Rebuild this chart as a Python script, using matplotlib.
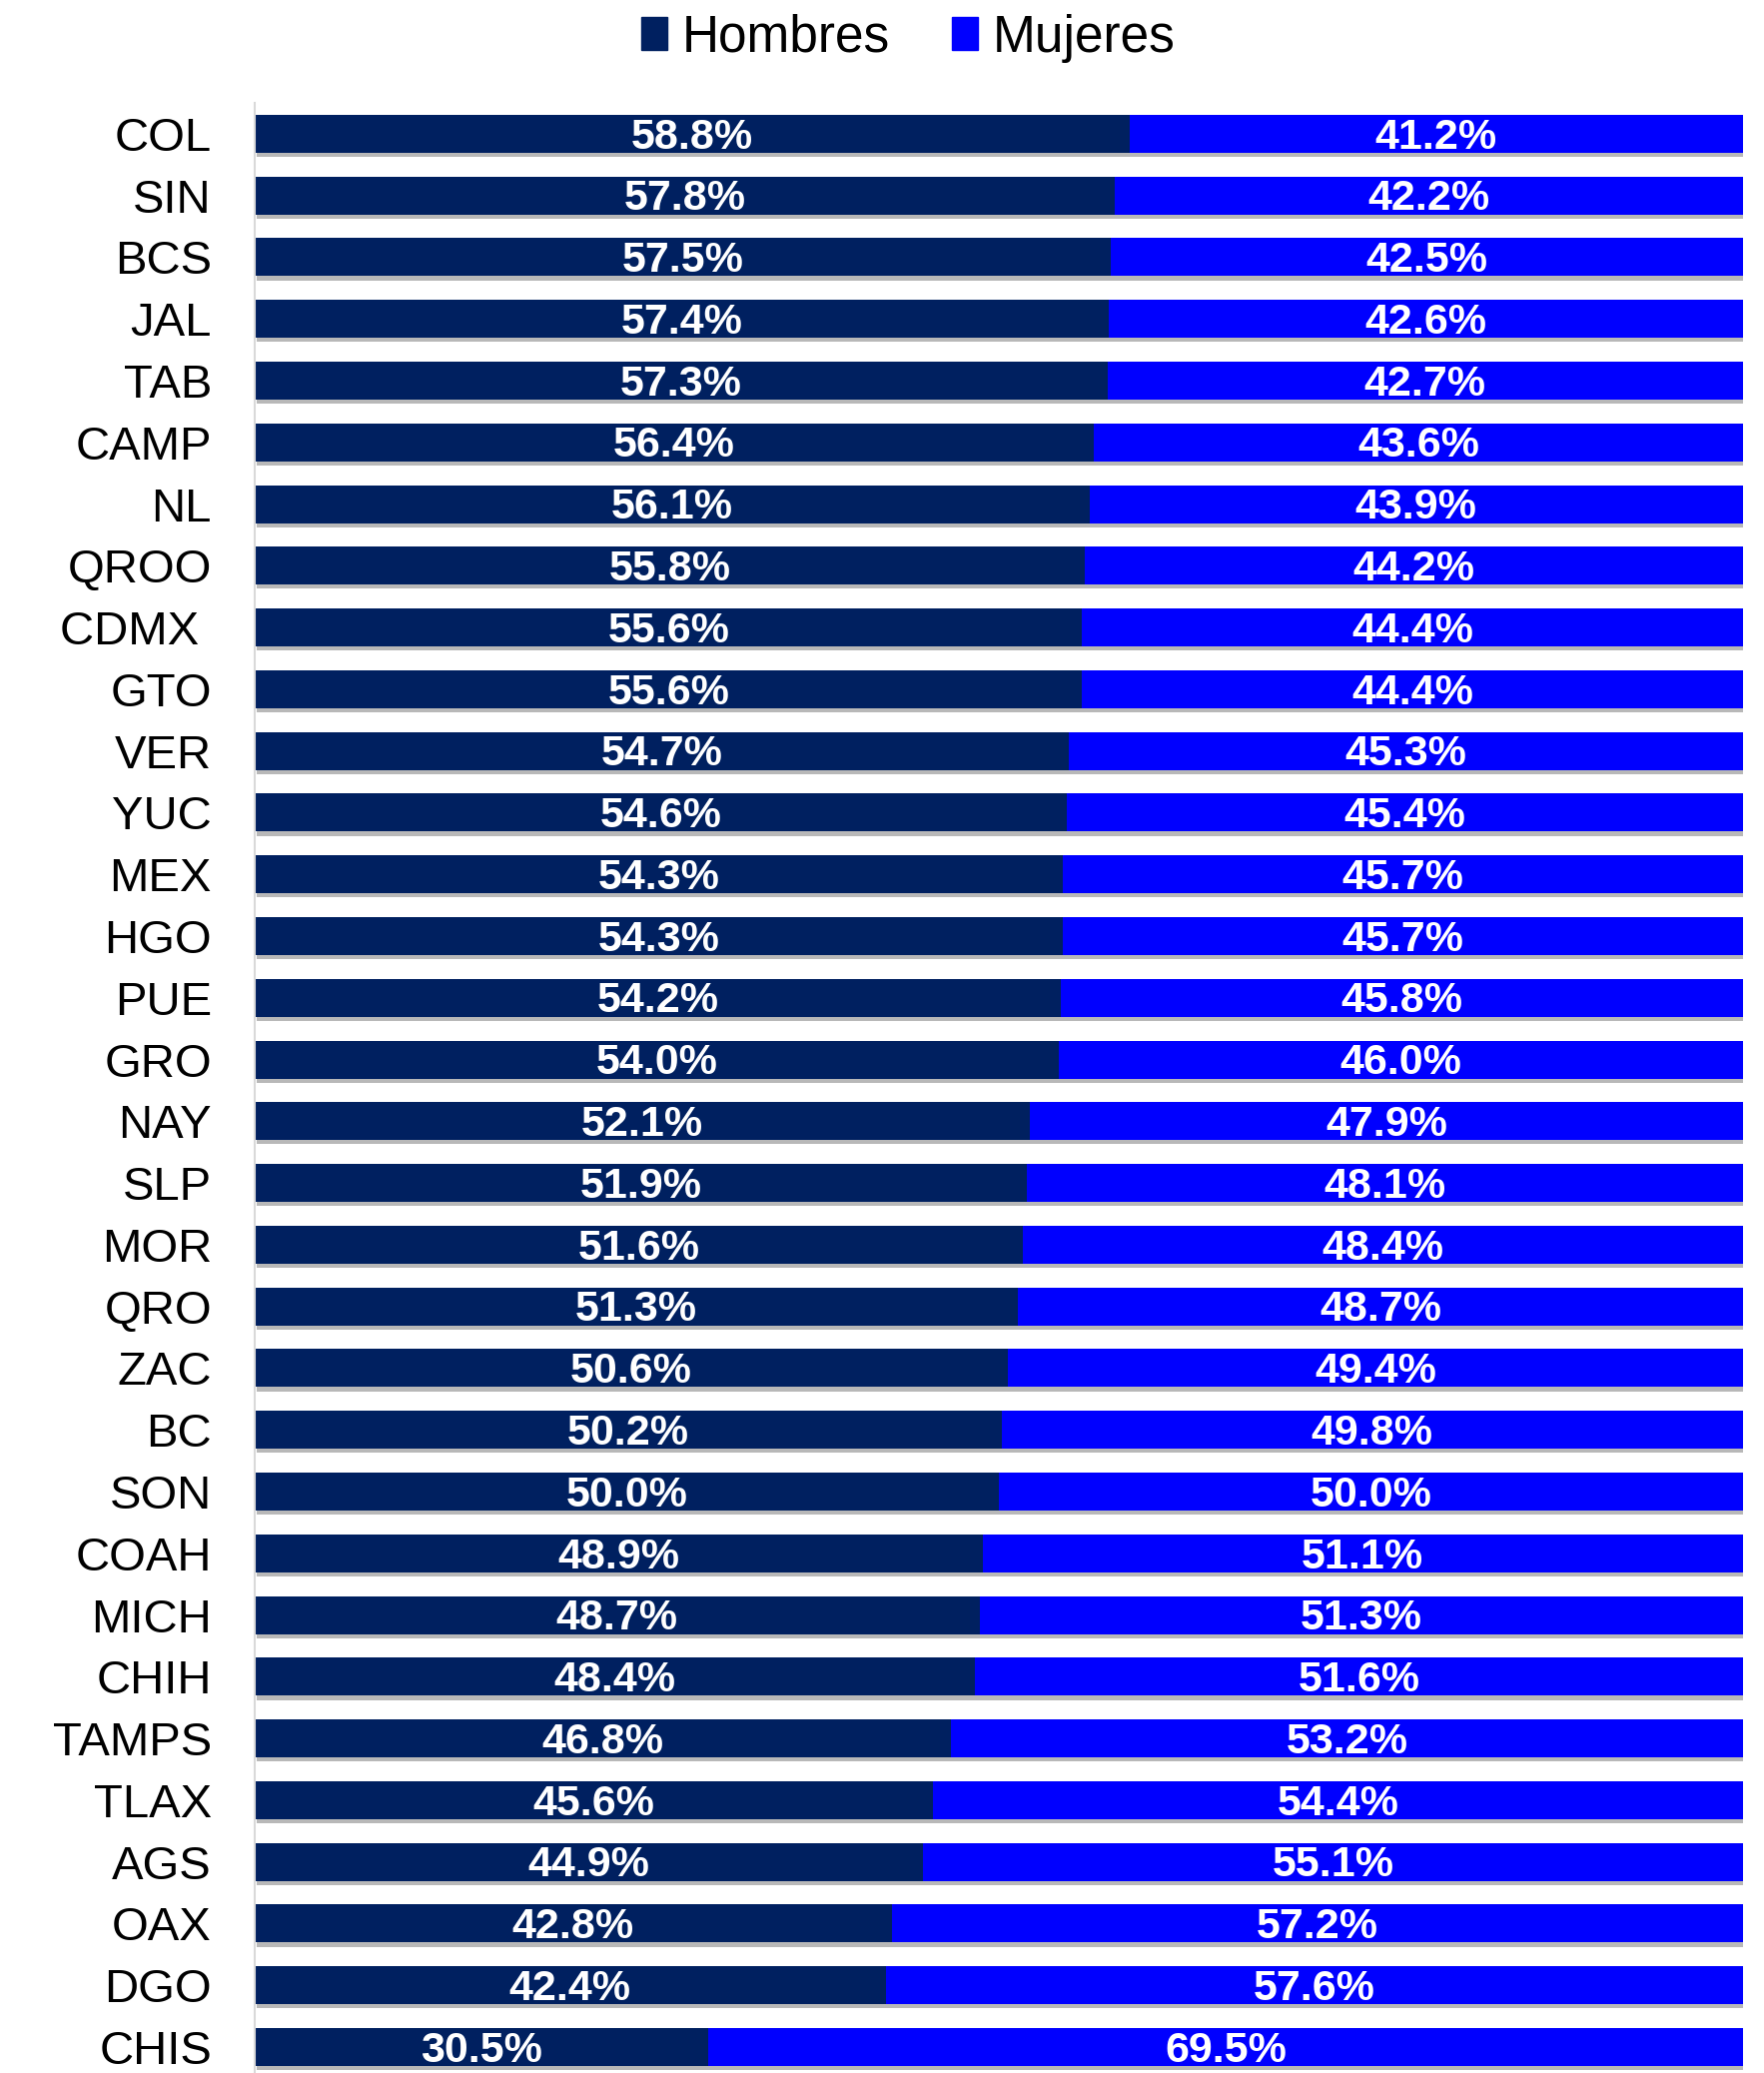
import matplotlib
matplotlib.use("Agg")
import matplotlib.pyplot as plt
import matplotlib.patheffects as pe
from matplotlib.patches import Patch
import numpy as np

plt.rcParams['font.family'] = ['Liberation Sans', 'DejaVu Sans']

estados = ['COL', 'SIN', 'BCS', 'JAL', 'TAB', 'CAMP', 'NL', 'QROO', 'CDMX ', 'GTO',
           'VER', 'YUC', 'MEX', 'HGO', 'PUE', 'GRO', 'NAY', 'SLP', 'MOR', 'QRO',
           'ZAC', 'BC', 'SON', 'COAH', 'MICH', 'CHIH', 'TAMPS', 'TLAX', 'AGS', 'OAX',
           'DGO', 'CHIS']
hombres = [58.8, 57.8, 57.5, 57.4, 57.3, 56.4, 56.1, 55.8, 55.6, 55.6,
           54.7, 54.6, 54.3, 54.3, 54.2, 54.0, 52.1, 51.9, 51.6, 51.3,
           50.6, 50.2, 50.0, 48.9, 48.7, 48.4, 46.8, 45.6, 44.9, 42.8,
           42.4, 30.5]
mujeres = [41.2, 42.2, 42.5, 42.6, 42.7, 43.6, 43.9, 44.2, 44.4, 44.4,
           45.3, 45.4, 45.7, 45.7, 45.8, 46.0, 47.9, 48.1, 48.4, 48.7,
           49.4, 49.8, 50.0, 51.1, 51.3, 51.6, 53.2, 54.4, 55.1, 57.2,
           57.6, 69.5]

c_hom = '#002060'
c_muj = '#0000FF'

fig = plt.figure(figsize=(17.66, 20.75), dpi=100)
ax = fig.add_axes([0.1444, 0.0, 0.988 - 0.1444, 0.9504])

y = np.arange(len(estados))
sombra = [pe.SimplePatchShadow(offset=(1.5, -3), shadow_rgbFace='#7f7f7f', alpha=0.55), pe.Normal()]

b1 = ax.barh(y, hombres, height=0.615, color=c_hom)
b2 = ax.barh(y, mujeres, left=hombres, height=0.615, color=c_muj)
for b in list(b1) + list(b2):
    b.set_path_effects(sombra)

# etiquetas dentro de cada segmento
for i in range(len(estados)):
    ax.text(hombres[i] / 2, y[i] + 0.06, f'{hombres[i]:.1f}%', ha='center', va='center',
            color='white', fontsize=31, fontweight='bold')
    ax.text(hombres[i] + mujeres[i] / 2, y[i] + 0.06, f'{mujeres[i]:.1f}%', ha='center', va='center',
            color='white', fontsize=31, fontweight='bold')

ax.set_xlim(0, 100)
ax.set_ylim(31.42, -0.5)
ax.set_yticks(y)
ax.set_yticklabels(estados, fontsize=34)
ax.tick_params(axis='y', length=0, pad=31)
ax.set_xticks([])
for s in ['top', 'right', 'bottom']:
    ax.spines[s].set_visible(False)
ax.spines['left'].set_color('#d9d9d9')
ax.spines['left'].set_linewidth(1.5)

handles = [Patch(color=c_hom), Patch(color=c_muj)]
fig.legend(handles=handles, labels=['Hombres', 'Mujeres'], loc='center',
           bbox_to_anchor=(0.515, 0.9815), ncol=2, frameon=False, fontsize=37,
           handlelength=0.5, handleheight=0.6, handletextpad=0.3, columnspacing=1.2)

fig.savefig('out.png', dpi=100)
